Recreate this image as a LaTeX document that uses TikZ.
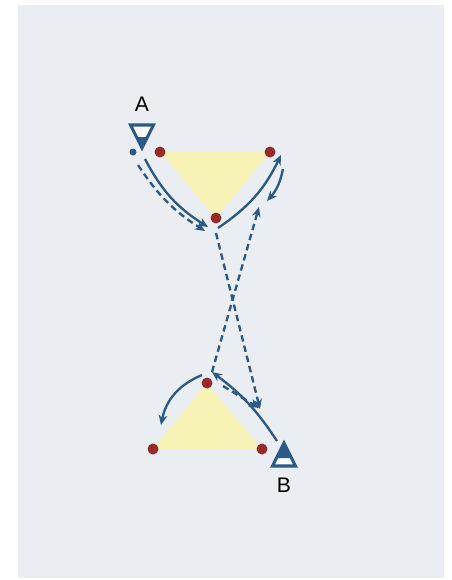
\documentclass[tikz,border=0pt]{standalone}
\usepackage{fontspec}
\setmainfont{Liberation Sans}
\usetikzlibrary{arrows.meta}
\definecolor{panelgray}{HTML}{EAEEF2}
\definecolor{routeblue}{HTML}{2C5A86}
\definecolor{pointred}{HTML}{982B29}
\definecolor{areayellow}{HTML}{F7F3B6}
\tikzset{
  redpt/.style={circle,fill=pointred,inner sep=0pt,minimum size=0.33cm},
  bluept/.style={circle,fill=routeblue,inner sep=0pt,minimum size=0.21cm},
  route/.style={routeblue,line width=2pt,-{Stealth[length=3mm,width=2.6mm]}},
  backroute/.style={route,dash pattern=on 5.5pt off 3.5pt},
  stationlabel/.style={font=\fontsize{18}{21}\selectfont}
}
\begin{document}
\begin{tikzpicture}[x=0.03cm,y=-0.03cm]
  \useasboundingbox (0,0) rectangle (452,580);
  \fill[white] (0,0) rectangle (452,580);
  \fill[panelgray] (18,5) rectangle (444,578);
  % triangle corners
  \coordinate (p1) at (160,152);
  \coordinate (p2) at (270,152);
  \coordinate (p3) at (216,218);
  \coordinate (q1) at (207,383);
  \coordinate (q2) at (153,449);
  \coordinate (q3) at (262,449);
  \fill[areayellow] (p1) -- (p2) -- (p3) -- cycle;
  \fill[areayellow] (q1) -- (q2) -- (q3) -- cycle;
  \node[redpt] (t1) at (p1) {};
  \node[redpt] (t2) at (p2) {};
  \node[redpt] (t3) at (p3) {};
  \node[redpt] (b1) at (q1) {};
  \node[redpt] (b2) at (q2) {};
  \node[redpt] (b3) at (q3) {};
  \node[bluept] (a0) at (133,152) {};
  % station A
  \begin{scope}[shift={(142,125)}]
    \fill[white] (-11.5,0) -- (11.5,0) -- (0,23) -- cycle;
    \fill[routeblue] (-6,12) -- (6,12) -- (0,23) -- cycle;
    \draw[routeblue,line width=2.6pt,line join=miter] (-11.5,0) -- (11.5,0) -- (0,23) -- cycle;
  \end{scope}
  \node[stationlabel] (labA) at (142,104) {A};
  % station B
  \begin{scope}[shift={(284,443)}]
    \fill[white] (-11.5,23) -- (11.5,23) -- (0,0) -- cycle;
    \fill[routeblue] (-7.5,15) -- (7.5,15) -- (0,0) -- cycle;
    \draw[routeblue,line width=2.6pt,line join=miter] (-11.5,23) -- (11.5,23) -- (0,0) -- cycle;
  \end{scope}
  \node[stationlabel] (labB) at (284,485) {B};
  % route ends
  \coordinate (s1) at (145,159);
  \coordinate (e1) at (208,227);
  \coordinate (s2) at (138,165);
  \coordinate (e2) at (205,231);
  \coordinate (s3) at (218,228);
  \coordinate (e3) at (281,155);
  \coordinate (s4) at (283,169);
  \coordinate (e4) at (267,201);
  \coordinate (s5) at (216,233);
  \coordinate (e5) at (260,409);
  \coordinate (s6) at (212,372);
  \coordinate (e6) at (259,207);
  \coordinate (s7) at (223,386);
  \coordinate (e7) at (259,408);
  \coordinate (s8) at (277,441);
  \coordinate (e8) at (212,372);
  \coordinate (s9) at (202,375);
  \coordinate (e9) at (161,425);
  \draw[route] (s1) to[bend right=15] (e1);
  \draw[backroute] (s2) to[bend right=12] (e2);
  \draw[route] (s3) to[bend right=15] (e3);
  \draw[route] (s4) to[bend left=15] (e4);
  \draw[backroute] (s5) -- (e5);
  \draw[backroute] (s6) -- (e6);
  \draw[backroute] (s7) -- (e7);
  \draw[route] (s8) to[bend right=10] (e8);
  \draw[route] (s9) to[bend right=28] (e9);
\end{tikzpicture}
\end{document}
